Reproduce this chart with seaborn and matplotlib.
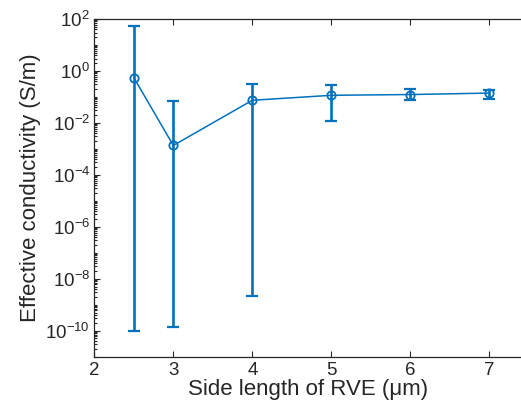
import numpy as np
import pandas as pd
import seaborn as sns
import matplotlib
matplotlib.use("Agg")
import matplotlib.pyplot as plt
from matplotlib.ticker import FixedLocator, LogLocator, NullFormatter

# data
side_length = [2.5, 3, 4, 5, 6, 7]
conductivity = [0.55, 1.35e-3, 0.074, 0.115, 0.123, 0.14]
err_upper = [55, 0.068, 0.32, 0.28, 0.21, 0.18]
err_lower = [1.0e-10, 1.4e-10, 2.1e-9, 0.0117, 0.074, 0.081]
xticks = [2, 3, 4, 5, 6, 7]
yticks = [1e-10, 1e-8, 1e-6, 1e-4, 1e-2, 1e0, 1e2]

blue = "#0072BD"

sns.set_style("white")
plt.rcParams["font.family"] = ["Liberation Sans", "DejaVu Sans"]
plt.rcParams["mathtext.fontset"] = "custom"
plt.rcParams["mathtext.rm"] = "Liberation Sans"
plt.rcParams["mathtext.it"] = "Liberation Sans:italic"

df = pd.DataFrame({"x": side_length, "y": conductivity})

fig = plt.figure(figsize=(5.21, 4.03), dpi=100)
ax = fig.add_axes([0.181, 0.115, 0.819, 0.838])

yerr = np.array([np.array(conductivity) - np.array(err_lower),
                 np.array(err_upper) - np.array(conductivity)])
ax.errorbar(side_length, conductivity, yerr=yerr, fmt="none", ecolor=blue,
            elinewidth=1.9, capsize=4.2, capthick=1.6, zorder=2)
sns.lineplot(data=df, x="x", y="y", ax=ax, color=blue, linewidth=1.1,
             marker="o", markersize=6, markerfacecolor="none",
             markeredgecolor=blue, markeredgewidth=1.3, zorder=3)

ax.set_yscale("log")
ax.set_xlim(2, 7.4)
ax.set_ylim(1e-11, 1e2)
ax.set_xticks(xticks)
ax.yaxis.set_major_locator(FixedLocator(yticks))
ax.yaxis.set_minor_locator(LogLocator(base=10, subs=np.arange(1, 10), numticks=100))
ax.yaxis.set_minor_formatter(NullFormatter())

ax.tick_params(axis="both", which="both", direction="in", top=True, bottom=True,
               left=True, right=False, labelsize=13.5, colors="#262626", width=0.8)
ax.tick_params(which="major", length=4)
ax.tick_params(which="minor", length=2.2)
ax.tick_params(axis="x", which="minor", top=False, bottom=False)
ax.tick_params(axis="y", which="major", labelcolor="#262626", pad=3)
ax.tick_params(axis="x", which="major", pad=4)

for s in ["left", "bottom", "top"]:
    ax.spines[s].set_color("#262626")
    ax.spines[s].set_linewidth(0.9)
ax.spines["right"].set_visible(False)

ax.set_xlabel("Side length of RVE (μm)", fontsize=16, color="#262626", labelpad=0)
ax.set_ylabel("Effective conductivity (S/m)", fontsize=16, color="#262626", labelpad=3)

fig.savefig("out.png", dpi=100)
